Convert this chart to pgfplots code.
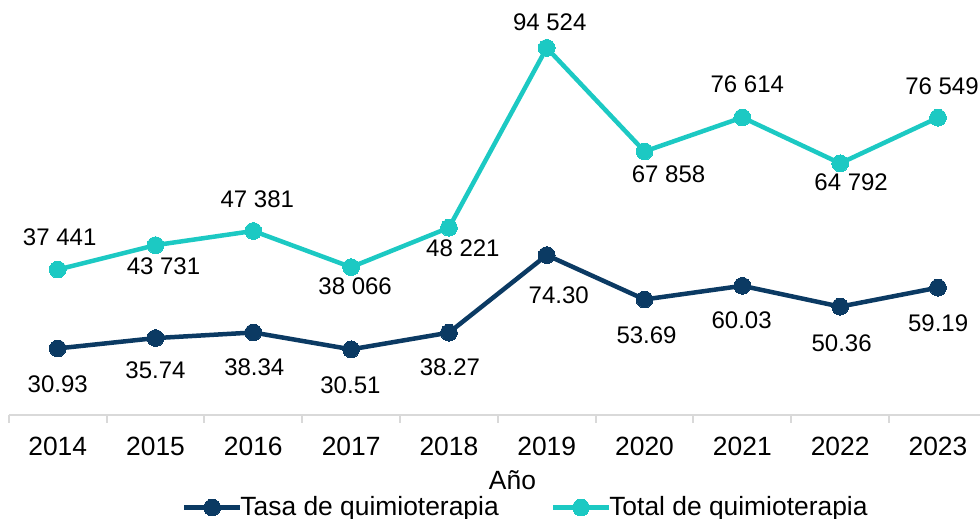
\documentclass[border=0pt]{standalone}
\usepackage{pgfplots}
\pgfplotsset{compat=1.18}
\usepackage{pgfplotstable}
\usepackage{fontspec}
\setmainfont{Liberation Sans}
\definecolor{navy}{HTML}{0B3A63}
\definecolor{tealc}{HTML}{1CC9C3}
\definecolor{axgray}{HTML}{D9D9D9}

\pgfplotstableread{
x y dx dy
0 30.93 0 36
1 35.74 0 32.5
2 38.34 1 35
3 30.51 -0.7 35.7
4 38.27 1 35
5 74.30 12 40
6 53.69 2 36
7 60.03 -0.7 34.5
8 50.36 1.5 36.3
9 59.19 0.2 35.8
}\tasa

\pgfplotstableread{
x y dx dy
0 37441 2 -32.5
1 43731 8 21
2 47381 4 -32
3 38066 4 19.4
4 48221 14 21
5 94524 3 -26
6 67858 24 22.5
7 76614 5 -32.7
8 64792 11 19
9 76549 4 -31.7
}\total

\begin{document}
\begin{tikzpicture}
\pgfplotsset{
  base/.style={
    scale only axis, width=485.6pt, height=194.2pt,
    xmin=-0.5, xmax=9.43, ymin=0,
    clip=false,
    /pgf/number format/assume math mode=true,
    ytick=\empty,
  },
  lbl/.style={
    point meta=y,
    visualization depends on={\thisrow{dx}\as\ldx},
    visualization depends on={\thisrow{dy}\as\ldy},
    every node near coord/.append style={anchor=center, inner sep=0pt,
      font=\fontsize{12}{14.4}\selectfont, text=black,
      xshift=\ldx*0.5pt, yshift=-1*(\ldy)*0.5pt},
  },
  navyline/.style={navy, line width=2.25pt, mark=*, mark size=4.2pt, mark options={fill=navy, draw=navy, line width=0pt}},
  tealline/.style={tealc, line width=2.25pt, mark=*, mark size=4.2pt, mark options={fill=tealc, draw=tealc, line width=0pt}},
}
\begin{axis}[base, name=ax,
  ymax=180.5,
  axis x line*=bottom, axis y line=none,
  x axis line style={draw=axgray, line width=1pt, -},
  xtick={0,...,9},
  xticklabels={2014,2015,2016,2017,2018,2019,2020,2021,2022,2023},
  major tick length=0pt,
  major x tick style={draw=none},
  minor xtick={-0.5,0.5,1.5,2.5,3.5,4.5,5.5,6.5,7.5,8.5},
  minor tick length=4pt, tick align=outside,
  minor x tick style={draw=axgray, line width=1pt},
  xticklabel style={anchor=base, yshift=-20.5pt, font=\fontsize{13.2}{15.8}\selectfont},
  xlabel={Año},
  xlabel style={at={(axis description cs:0.5186,-0.1913)}, anchor=base, font=\fontsize{13.2}{15.8}\selectfont},
]
\addplot[navyline, forget plot,
  lbl, nodes near coords={\pgfmathprintnumber[fixed, fixed zerofill, precision=2]{\pgfplotspointmeta}}]
  table[x=x, y=y] {\tasa};
\end{axis}
\begin{axis}[base,
  ymax=100000,
  axis lines=none,
  xtick=\empty,
  legend columns=2,
  legend cell align=left,
  legend style={at={(axis description cs:0.1783,-0.2382)}, anchor=west,
    draw=none, fill=none, inner sep=0pt, outer sep=0pt,
    font=\fontsize{13.2}{15.8}\selectfont,
    nodes={inner xsep=-1pt, inner ysep=0pt},
    /tikz/every even column/.append style={column sep=27pt}},
  legend image code/.code={
    \draw[mark repeat=2, mark phase=2, #1] plot coordinates {(0pt,0pt) (14pt,0pt) (28pt,0pt)};
  },
]
\addlegendimage{navyline}
\addlegendentry{Tasa de quimioterapia}
\addlegendimage{tealline}
\addlegendentry{Total de quimioterapia}
\addplot[tealline, forget plot,
  lbl, nodes near coords={\pgfmathprintnumber[fixed, precision=0, 1000 sep={\ }]{\pgfplotspointmeta}}]
  table[x=x, y=y] {\total};
\end{axis}
\pgfresetboundingbox
\path ([shift={(-4.4pt,-52pt)}]ax.south west) rectangle ([shift={(485.6pt,207.5pt)}]ax.south west);
\end{tikzpicture}
\end{document}
